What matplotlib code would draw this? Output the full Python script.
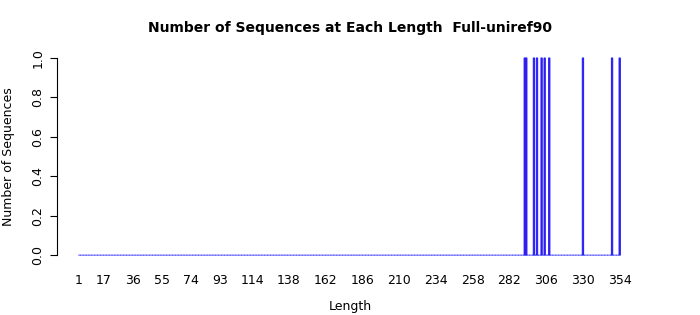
import numpy as np
import matplotlib
matplotlib.use("Agg")
import matplotlib.pyplot as plt

# every length 1..354, only a few of them have a sequence
lengths = np.arange(1, 355)
found_lengths = [292, 293, 298, 300, 303, 305, 308, 330, 349, 354]
found_counts = [1, 1, 1, 1, 1, 1, 1, 1, 1, 1]
tick_labels = [1, 17, 36, 55, 74, 93, 114, 138, 162, 186, 210, 234, 258, 282, 306, 330, 354]

counts = np.zeros(len(lengths))
for L, c in zip(found_lengths, found_counts):
    counts[L - 1] = c

fig = plt.figure(figsize=(7, 3.15), dpi=100)
ax = fig.add_axes([0.081, 0.165, 0.838, 0.676])

ax.bar(lengths, counts, width=0.833, color="#8b008b", edgecolor="#2020ff",
       linewidth=0.75, snap=False)

ax.set_xlim(-13.6, 369.4)
ax.set_ylim(-0.04, 1.04)
for s in ["top", "right", "bottom"]:
    ax.spines[s].set_visible(False)
ax.spines["left"].set_bounds(0, 1)
ax.spines["left"].set_linewidth(0.8)

ax.set_yticks([0, 0.2, 0.4, 0.6, 0.8, 1.0])
ax.set_yticklabels(["0.0", "0.2", "0.4", "0.6", "0.8", "1.0"], rotation=90, va="center", fontsize=9)
ax.tick_params(axis="y", length=5, width=0.8, pad=4)

ax.set_xticks(tick_labels)
ax.set_xticklabels([str(t) for t in tick_labels], fontsize=9)
ax.tick_params(axis="x", length=0, pad=8)

ax.set_ylabel("Number of Sequences", fontsize=9, labelpad=12)
ax.set_xlabel("Length", fontsize=9, labelpad=9)
ax.set_title("Number of Sequences at Each Length  Full-uniref90", fontsize=10, fontweight="bold", pad=13)

fig.savefig("out.png", dpi=100)
